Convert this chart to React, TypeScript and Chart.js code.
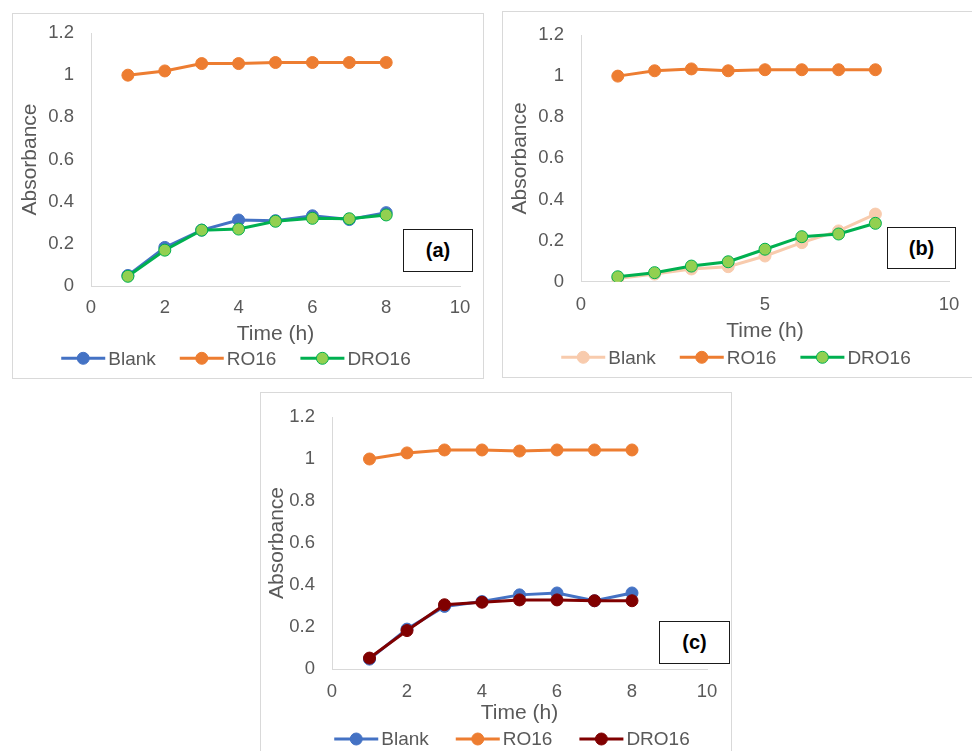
import { useEffect, useRef } from "react";
import { Chart, registerables } from "chart.js";

Chart.register(...registerables);

// Sampling times (h)
const hours = [1, 2, 3, 4, 5, 6, 7, 8];
const seriesNames = ["Blank", "RO16", "DRO16"];

// Panel (a)
const blankA = [0.05, 0.183, 0.265, 0.313, 0.31, 0.333, 0.315, 0.348];
const ro16A = [1.0, 1.02, 1.055, 1.055, 1.06, 1.06, 1.06, 1.06];
const dro16A = [0.046, 0.17, 0.265, 0.27, 0.307, 0.321, 0.319, 0.337];

// Panel (b)
const blankB = [0.016, 0.037, 0.062, 0.073, 0.125, 0.19, 0.247, 0.329];
const ro16B = [1.0, 1.026, 1.035, 1.026, 1.031, 1.031, 1.031, 1.031];
const dro16B = [0.024, 0.044, 0.076, 0.097, 0.158, 0.219, 0.232, 0.284];

// Panel (c)
const blankC = [0.047, 0.19, 0.298, 0.321, 0.353, 0.362, 0.325, 0.362];
const ro16C = [1.0, 1.029, 1.043, 1.043, 1.038, 1.043, 1.043, 1.043];
const dro16C = [0.052, 0.183, 0.306, 0.318, 0.329, 0.329, 0.325, 0.325];

const FONT = '"Liberation Sans", Arial, Helvetica, sans-serif';
const TEXT = "#595959";
const AXIS = "#D9D9D9";

const BLUE = "#4472C4";
const ORANGE = "#ED7D31";
const PEACH = "#F8CBAD";
const GREEN_LINE = "#00B050";
const GREEN_FILL = "#92D050";
const MAROON = "#800000";

type Series = { values: number[]; line: string; fill: string; edge: string; order: number };

type PanelProps = {
  tag: string;
  box: { left: number; top: number; width: number; height: number };
  tagBox: { left: number; top: number; width: number; height: number };
  series: Series[];
  xStep: number;
  pad: { left: number; right: number; top: number; bottom: number };
  yWidth: number;
  xHeight: number;
  yTitlePad: number;
  xTickPad: number;
  legend: { cx: number; dy: number; gap: number };
};

// Legend entries drawn as a short line with a marker in the middle
const lineLegend = {
  id: "lineLegend",
  afterDraw(chart: any, _args: any, opts: any) {
    const ctx: CanvasRenderingContext2D = chart.ctx;
    const markerW = 44;
    const textGap = 3;
    ctx.save();
    ctx.font = `19px ${FONT}`;
    const items = chart.data.datasets.map((ds: any) => ({ ds, w: ctx.measureText(ds.label).width }));
    const total =
      items.reduce((s: number, it: any) => s + markerW + textGap + it.w, 0) + opts.gap * (items.length - 1);
    let x = opts.cx - total / 2;
    const y = chart.chartArea.bottom + opts.dy;
    for (const { ds, w } of items) {
      ctx.strokeStyle = ds.borderColor;
      ctx.lineWidth = 3;
      ctx.beginPath();
      ctx.moveTo(x, y);
      ctx.lineTo(x + markerW, y);
      ctx.stroke();
      ctx.beginPath();
      ctx.arc(x + markerW / 2, y, 6, 0, Math.PI * 2);
      ctx.fillStyle = ds.pointBackgroundColor;
      ctx.fill();
      ctx.lineWidth = 1;
      ctx.strokeStyle = ds.pointBorderColor;
      ctx.stroke();
      ctx.fillStyle = TEXT;
      ctx.textAlign = "left";
      ctx.textBaseline = "middle";
      ctx.fillText(ds.label, x + markerW + textGap, y + 1);
      x += markerW + textGap + w + opts.gap;
    }
    ctx.restore();
  },
};

function Panel(p: PanelProps) {
  const ref = useRef<HTMLCanvasElement | null>(null);

  useEffect(() => {
    const canvas = ref.current;
    if (!canvas) return;
    const chart = new Chart(canvas, {
      type: "line",
      data: {
        datasets: p.series.map((s, i) => ({
          label: seriesNames[i],
          data: hours.map((h, j) => ({ x: h, y: s.values[j] })),
          borderColor: s.line,
          backgroundColor: s.fill,
          pointBackgroundColor: s.fill,
          pointBorderColor: s.edge,
          pointBorderWidth: 1,
          pointRadius: 6,
          borderWidth: 3,
          tension: 0,
          fill: false,
          order: s.order,
        })),
      },
      options: {
        responsive: false,
        animation: false,
        devicePixelRatio: 1,
        layout: { padding: p.pad },
        plugins: {
          legend: { display: false },
          tooltip: { enabled: false },
          lineLegend: p.legend,
        } as any,
        scales: {
          x: {
            type: "linear",
            min: 0,
            max: 10,
            ticks: {
              stepSize: p.xStep,
              color: TEXT,
              font: { family: FONT, size: 18.5 },
              padding: p.xTickPad,
              maxRotation: 0,
            },
            grid: { display: false, drawTicks: false },
            border: { display: true, color: AXIS, width: 1 },
            title: {
              display: true,
              text: "Time (h)",
              color: TEXT,
              font: { family: FONT, size: 21 },
              padding: { top: 0, bottom: 0 },
            },
            afterFit: (scale: any) => {
              scale.height = p.xHeight;
            },
          },
          y: {
            min: 0,
            max: 1.2,
            ticks: {
              stepSize: 0.2,
              color: TEXT,
              font: { family: FONT, size: 18.5 },
              padding: 17,
              callback: (v: any) => String(Math.round(Number(v) * 10) / 10),
            },
            grid: { display: false, drawTicks: false },
            border: { display: true, color: AXIS, width: 1 },
            title: {
              display: true,
              text: "Absorbance",
              color: TEXT,
              font: { family: FONT, size: 21 },
              padding: { top: p.yTitlePad, bottom: 0 },
            },
            afterFit: (scale: any) => {
              scale.width = p.yWidth;
              scale.paddingTop = 0;
              scale.paddingBottom = 0;
            },
          },
        },
      },
      plugins: [lineLegend as any],
    });
    return () => chart.destroy();
  }, []);

  return (
    <div
      style={{
        position: "absolute",
        left: p.box.left,
        top: p.box.top,
        width: p.box.width,
        height: p.box.height,
        boxSizing: "border-box",
        border: `1px solid ${AXIS}`,
        background: "#fff",
      }}
    >
      <canvas ref={ref} width={p.box.width - 2} height={p.box.height - 2} style={{ display: "block" }} />
      <div
        style={{
          position: "absolute",
          left: p.tagBox.left,
          top: p.tagBox.top,
          width: p.tagBox.width,
          height: p.tagBox.height,
          boxSizing: "border-box",
          border: "1px solid #1a1a1a",
          background: "#fff",
          display: "flex",
          alignItems: "center",
          justifyContent: "center",
          fontFamily: FONT,
          fontWeight: 700,
          fontSize: 20,
          color: "#000",
        }}
      >
        {p.tag}
      </div>
    </div>
  );
}

export default function App() {
  return (
    <div
      style={{
        position: "absolute",
        left: 0,
        top: 0,
        width: 972,
        height: 751,
        overflow: "hidden",
        background: "#fff",
      }}
    >
      <Panel
        tag="(a)"
        box={{ left: 12, top: 13, width: 472, height: 366 }}
        tagBox={{ left: 390, top: 215, width: 70, height: 43 }}
        series={[
          { values: blankA, line: BLUE, fill: BLUE, edge: BLUE, order: 2 },
          { values: ro16A, line: ORANGE, fill: ORANGE, edge: ORANGE, order: 1 },
          { values: dro16A, line: GREEN_LINE, fill: GREEN_FILL, edge: GREEN_LINE, order: 0 },
        ]}
        xStep={2}
        pad={{ left: 0, right: 23, top: 19, bottom: 31 }}
        yWidth={78}
        xHeight={61}
        yTitlePad={5}
        xTickPad={11.2}
        legend={{ cx: 223, dy: 72.3, gap: 24 }}
      />
      <Panel
        tag="(b)"
        box={{ left: 502, top: 11, width: 472, height: 367 }}
        tagBox={{ left: 384, top: 215, width: 69, height: 42 }}
        series={[
          { values: blankB, line: PEACH, fill: PEACH, edge: PEACH, order: 2 },
          { values: ro16B, line: ORANGE, fill: ORANGE, edge: ORANGE, order: 1 },
          { values: dro16B, line: GREEN_LINE, fill: GREEN_FILL, edge: GREEN_LINE, order: 0 },
        ]}
        xStep={5}
        pad={{ left: 0, right: 24, top: 23, bottom: 33.4 }}
        yWidth={78}
        xHeight={61.9}
        yTitlePad={5}
        xTickPad={12.2}
        legend={{ cx: 233, dy: 75.6, gap: 24 }}
      />
      <Panel
        tag="(c)"
        box={{ left: 260, top: 392, width: 472, height: 366 }}
        tagBox={{ left: 398, top: 228, width: 71, height: 43 }}
        series={[
          { values: blankC, line: BLUE, fill: BLUE, edge: BLUE, order: 2 },
          { values: ro16C, line: ORANGE, fill: ORANGE, edge: ORANGE, order: 1 },
          { values: dro16C, line: MAROON, fill: MAROON, edge: MAROON, order: 0 },
        ]}
        xStep={2}
        pad={{ left: 0, right: 24, top: 24, bottom: 31.1 }}
        yWidth={71}
        xHeight={56.9}
        yTitlePad={4}
        xTickPad={12.2}
        legend={{ cx: 251, dy: 70, gap: 27 }}
      />
    </div>
  );
}
